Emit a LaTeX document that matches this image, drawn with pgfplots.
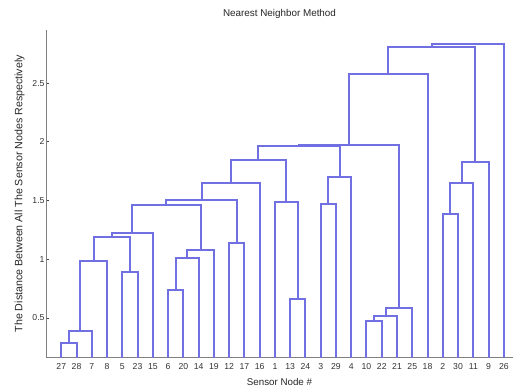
\documentclass[border=0pt]{standalone}
\usepackage{fontspec}
\setmainfont{Liberation Sans}
\usepackage{pgfplots}
\pgfplotsset{compat=1.18}
\definecolor{dendblue}{RGB}{112,112,226}
\begin{document}
\begin{tikzpicture}
\begin{axis}[
  scale only axis, width=467bp, height=328bp,
  at={(46bp,29.3bp)}, anchor=south west,
  xmin=0, xmax=30.6, ymin=0.162, ymax=2.954,
  axis x line*=bottom, axis y line*=left,
  axis line style={-, black!50, line width=1bp},
  xtick={1,2,...,30},
  xticklabels={27,28,7,8,5,23,15,6,20,14,19,12,17,16,1,13,24,3,29,4,10,22,21,25,18,2,30,11,9,26},
  ytick={0.5,1,1.5,2,2.5},
  yticklabels={0.5,1,1.5,2,2.5},
  /pgf/number format/assume math mode=true,
  tick align=inside, major tick length=3bp,
  tick style={black!75, line width=0.8bp},
  ticklabel style={font=\fontsize{8.7}{10}\selectfont, text=black!80},
  xticklabel style={yshift=-2bp},
  yticklabel style={xshift=2bp},
  title={Nearest Neighbor Method},
  title style={font=\fontsize{9.9}{11}\selectfont, text=black!85, yshift=2bp},
  xlabel={Sensor Node \#},
  xlabel style={font=\fontsize{9.8}{11}\selectfont, text=black!85, yshift=-2.5bp},
  ylabel={The Distance Between All The Sensor Nodes Respectively},
  ylabel style={font=\fontsize{10.7}{11}\selectfont, text=black!85, yshift=1bp},
  clip=true,
]
\addplot[draw=dendblue, solid, line width=2bp, mark=none, line join=miter, empty line=jump] table[row sep=crcr] {
x y\\
1 0\\ 1 0.290\\ 2 0.290\\ 2 0\\ \\
1.5 0.290\\ 1.5 0.392\\ 3 0.392\\ 3 0\\ \\
2.25 0.392\\ 2.25 0.988\\ 4 0.988\\ 4 0\\ \\
5 0\\ 5 0.894\\ 6 0.894\\ 6 0\\ \\
3.125 0.988\\ 3.125 1.193\\ 5.5 1.193\\ 5.5 0.894\\ \\
4.3125 1.193\\ 4.3125 1.221\\ 7 1.221\\ 7 0\\ \\
8 0\\ 8 0.739\\ 9 0.739\\ 9 0\\ \\
8.5 0.739\\ 8.5 1.014\\ 10 1.014\\ 10 0\\ \\
9.25 1.014\\ 9.25 1.082\\ 11 1.082\\ 11 0\\ \\
5.65625 1.221\\ 5.65625 1.463\\ 10.125 1.463\\ 10.125 1.082\\ \\
12 0\\ 12 1.141\\ 13 1.141\\ 13 0\\ \\
7.890625 1.463\\ 7.890625 1.503\\ 12.5 1.503\\ 12.5 1.141\\ \\
10.1953 1.503\\ 10.1953 1.646\\ 14 1.646\\ 14 0\\ \\
16 0\\ 16 0.662\\ 17 0.662\\ 17 0\\ \\
15 0\\ 15 1.486\\ 16.5 1.486\\ 16.5 0.662\\ \\
12.0977 1.646\\ 12.0977 1.846\\ 15.75 1.846\\ 15.75 1.486\\ \\
18 0\\ 18 1.471\\ 19 1.471\\ 19 0\\ \\
18.5 1.471\\ 18.5 1.698\\ 20 1.698\\ 20 0\\ \\
13.9238 1.846\\ 13.9238 1.966\\ 19.25 1.966\\ 19.25 1.698\\ \\
21 0\\ 21 0.474\\ 22 0.474\\ 22 0\\ \\
21.5 0.474\\ 21.5 0.517\\ 23 0.517\\ 23 0\\ \\
22.25 0.517\\ 22.25 0.588\\ 24 0.588\\ 24 0\\ \\
16.5869 1.966\\ 16.5869 1.970\\ 23.125 1.970\\ 23.125 0.588\\ \\
19.856 1.970\\ 19.856 2.576\\ 25 2.576\\ 25 0\\ \\
26 0\\ 26 1.388\\ 27 1.388\\ 27 0\\ \\
26.5 1.388\\ 26.5 1.647\\ 28 1.647\\ 28 0\\ \\
27.25 1.647\\ 27.25 1.826\\ 29 1.826\\ 29 0\\ \\
22.428 2.576\\ 22.428 2.806\\ 28.125 2.806\\ 28.125 1.826\\ \\
25.276 2.806\\ 25.276 2.834\\ 30 2.834\\ 30 0\\
};
\end{axis}
\pgfresetboundingbox
\path (0,0) rectangle (513bp,387bp);
\end{tikzpicture}
\end{document}
